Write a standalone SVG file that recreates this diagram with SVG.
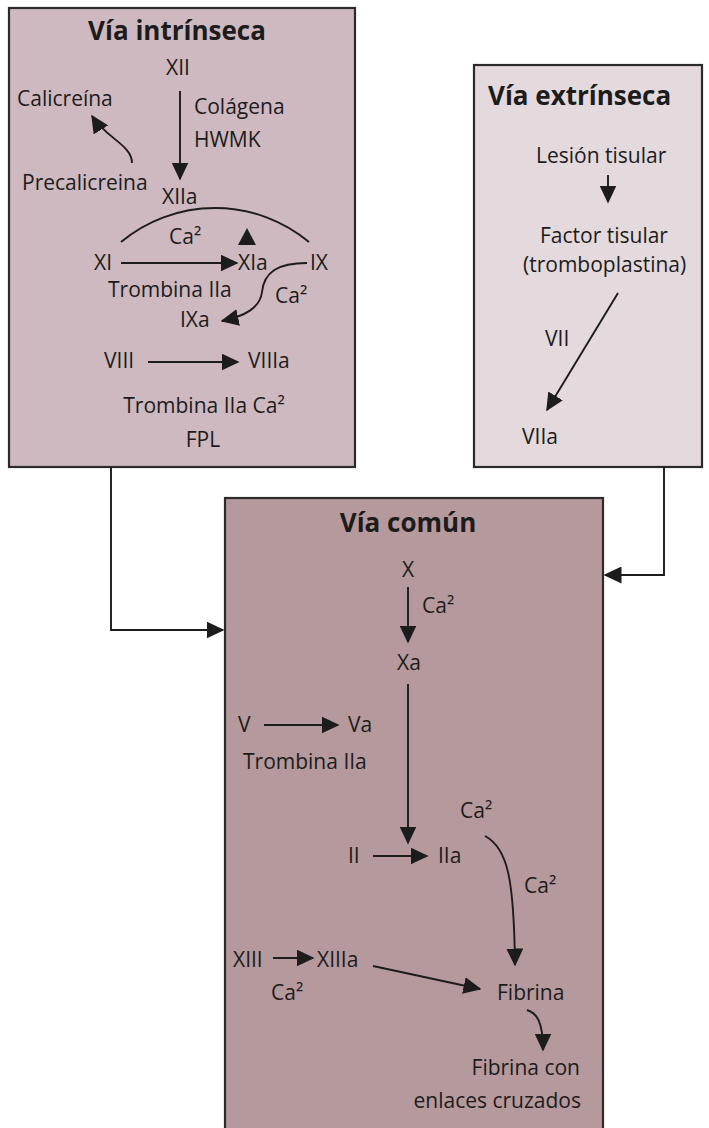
<svg xmlns="http://www.w3.org/2000/svg" width="709" height="1128" viewBox="0 0 709 1128">
<style>
text{font-family:"Open Sans","Noto Sans","DejaVu Sans",sans-serif;font-size:21px;fill:#1c1c1c}
.t{font-weight:bold;font-size:26px}
.box{stroke:#2b2b2b;stroke-width:2.2}
.ln{fill:none;stroke:#1c1c1c;stroke-width:1.9}
.m{text-anchor:middle}
.e{text-anchor:end}
</style>
<defs>
<marker id="ah" markerUnits="userSpaceOnUse" markerWidth="18" markerHeight="17" refX="16.5" refY="8.5" orient="auto">
<path d="M0,0 L18,8.5 L0,17 z" fill="#1c1c1c"/>
</marker>
</defs>
<rect width="709" height="1128" fill="#ffffff"/>

<g id="via-intrinseca">
<rect class="box" x="9" y="8" width="346" height="459" fill="#cdb9bf"/>
<text class="t m" x="177" y="40">Vía intrínseca</text>
<text class="m" x="178" y="75">XII</text>
<text x="17" y="106">Calicreína</text>
<text x="194" y="114">Colágena</text>
<text x="194" y="147">HWMK</text>
<text x="22" y="190">Precalicreina</text>
<text x="162" y="204">XIIa</text>
<text x="169" y="244">Ca²</text>
<text x="94" y="270">XI</text>
<text x="238" y="270">XIa</text>
<text x="310" y="270">IX</text>
<text x="108" y="297">Trombina IIa</text>
<text x="275" y="303">Ca²</text>
<text x="180" y="327">IXa</text>
<text x="104" y="368">VIII</text>
<text x="248" y="368">VIIIa</text>
<text class="m" x="204" y="413">Trombina IIa Ca²</text>
<text class="m" x="203" y="447">FPL</text>
</g>

<g id="via-extrinseca">
<rect class="box" x="474" y="65" width="228" height="402" fill="#e4d9dc"/>
<text class="t" x="488" y="105">Vía extrínseca</text>
<text x="536" y="163">Lesión tisular</text>
<text x="540" y="243">Factor tisular</text>
<text x="523" y="272">(tromboplastina)</text>
<text x="545" y="346">VII</text>
<text x="522" y="444">VIIa</text>
</g>

<g id="via-comun">
<rect class="box" x="225" y="498" width="378" height="640" fill="#b5999d"/>
<text class="t m" x="408" y="532">Vía común</text>
<text class="m" x="408" y="577">X</text>
<text x="422" y="613">Ca²</text>
<text class="m" x="409" y="670">Xa</text>
<text x="238" y="732">V</text>
<text x="348" y="732">Va</text>
<text x="243" y="769">Trombina IIa</text>
<text x="460" y="818">Ca²</text>
<text x="348" y="863">II</text>
<text x="438" y="863">IIa</text>
<text x="524" y="893">Ca²</text>
<text x="233" y="967">XIII</text>
<text x="317" y="967">XIIIa</text>
<text x="271" y="1000">Ca²</text>
<text x="497" y="1000">Fibrina</text>
<text class="e" x="580" y="1075">Fibrina con</text>
<text class="e" x="581" y="1108">enlaces cruzados</text>
</g>

<g id="connectors">
<path class="ln" d="M180,91 L180,179" marker-end="url(#ah)"/>
<path class="ln" d="M132,163 C132,145 106,138 92,116" marker-end="url(#ah)"/>
<path class="ln" d="M121,242 A147,147 0 0 1 309,242"/>
<polygon points="238,245 256,245 247,228" fill="#1c1c1c"/>
<path class="ln" d="M121,263 L237,263" marker-end="url(#ah)"/>
<path class="ln" d="M307,263 C278,263 264,272 262,292 C260,308 245,316 222,321" marker-end="url(#ah)"/>
<path class="ln" d="M148,362 L238,362" marker-end="url(#ah)"/>
<path class="ln" d="M608,175 L608,202" marker-end="url(#ah)"/>
<path class="ln" d="M618,293 L547,410" marker-end="url(#ah)"/>
<path class="ln" d="M408,587 L408,642" marker-end="url(#ah)"/>
<path class="ln" d="M408,684 L408,843" marker-end="url(#ah)"/>
<path class="ln" d="M264,725 L338,725" marker-end="url(#ah)"/>
<path class="ln" d="M373,856 L427,856" marker-end="url(#ah)"/>
<path class="ln" d="M485,836 C508,848 514,880 515,965" marker-end="url(#ah)"/>
<path class="ln" d="M273,958 L313,958" marker-end="url(#ah)"/>
<path class="ln" d="M373,966 L480,989" marker-end="url(#ah)"/>
<path class="ln" d="M527,1010 C537,1013 543,1022 543,1050" marker-end="url(#ah)"/>
<path class="ln" d="M111,467 L111,630 L223,630" marker-end="url(#ah)"/>
<path class="ln" d="M664,467 L664,575 L605,575" marker-end="url(#ah)"/>
</g>
</svg>
